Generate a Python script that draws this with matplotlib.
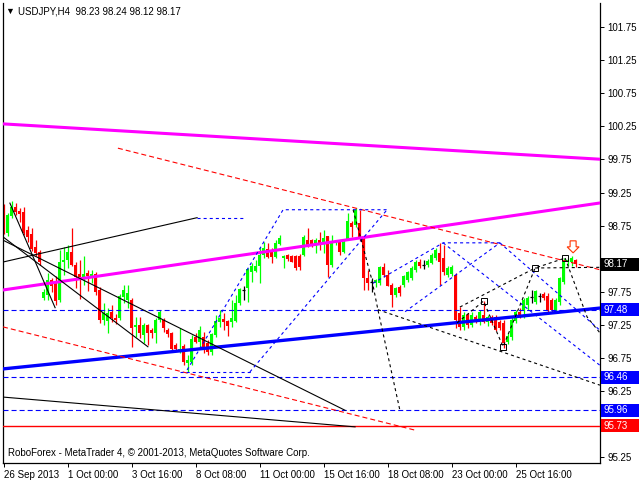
import matplotlib
matplotlib.use("Agg")
import matplotlib.pyplot as plt
import matplotlib.transforms as mtransforms
from matplotlib.patches import Rectangle, Polygon
import numpy as np

plt.rcParams['font.family'] = ['Liberation Sans', 'DejaVu Sans']
plt.rcParams['lines.scale_dashes'] = False

title_text = "USDJPY,H4  98.23 98.24 98.12 98.17"
copyright_text = "RoboForex - MetaTrader 4, \u00a9 2001-2013, MetaQuotes Software Corp."

opens = [98.83, 98.64, 98.90, 99.03, 98.97, 98.96, 98.68, 98.62, 98.43, 98.35,
         97.66, 97.70, 97.93, 97.91, 97.63, 98.20, 98.23, 98.35, 98.15, 98.02,
         97.97, 98.03, 97.97, 98.02, 97.78, 97.32, 97.31, 97.45, 97.36, 97.36,
         97.67, 97.63, 97.63, 97.22, 97.25, 97.10, 97.25, 97.17, 97.13, 97.32,
         97.32, 97.17, 97.13, 96.95, 96.84, 96.93, 96.68, 96.69, 97.07, 96.99,
         97.07, 96.98, 96.84, 97.10, 97.29, 97.34, 97.31, 97.29, 97.31, 97.58,
         97.78, 97.81, 98.05, 98.06, 98.14, 98.31, 98.40, 98.38, 98.28, 98.47,
         98.26, 98.31, 98.29, 98.29, 98.29, 98.31, 98.53, 98.53, 98.44, 98.53,
         98.47, 98.59, 98.15, 98.49, 98.53, 98.35, 98.55, 98.79, 98.76, 98.79,
         98.55, 97.96, 97.90, 97.88, 97.88, 98.12, 98.00, 97.85, 97.70, 97.82,
         97.85, 97.93, 97.96, 98.08, 98.20, 98.15, 98.15, 98.18, 98.26, 98.34,
         98.26, 98.00, 98.02, 98.00, 97.43, 97.22, 97.40, 97.25, 97.37, 97.29,
         97.40, 97.29, 97.37, 97.37, 97.29, 97.28, 96.99, 97.07, 97.31, 97.45,
         97.48, 97.55, 97.67, 97.60, 97.69, 97.72, 97.69, 97.63, 97.45, 97.60,
         97.90, 98.20, 98.20, 98.23]
highs = [99.08, 98.94, 99.12, 99.09, 99.02, 99.03, 98.74, 98.71, 98.53, 98.38,
         97.79, 98.03, 97.96, 97.99, 98.38, 98.43, 98.46, 98.71, 98.20, 98.23,
         98.29, 98.08, 98.08, 98.05, 97.82, 97.58, 97.51, 97.55, 97.42, 97.72,
         97.85, 97.85, 97.66, 97.37, 97.37, 97.28, 97.26, 97.20, 97.36, 97.48,
         97.36, 97.20, 97.14, 96.98, 97.20, 96.96, 96.80, 97.10, 97.13, 97.23,
         97.14, 97.02, 97.13, 97.40, 97.48, 97.43, 97.32, 97.63, 97.70, 97.81,
         97.84, 98.11, 98.18, 98.23, 98.43, 98.50, 98.49, 98.41, 98.53, 98.61,
         98.31, 98.32, 98.31, 98.31, 98.32, 98.61, 98.71, 98.55, 98.56, 98.65,
         98.68, 98.59, 98.61, 98.53, 98.53, 98.53, 98.94, 98.82, 99.02, 98.99,
         98.58, 98.08, 97.96, 97.94, 98.14, 98.18, 98.08, 97.88, 97.82, 97.85,
         98.00, 98.06, 98.14, 98.23, 98.25, 98.23, 98.25, 98.34, 98.41, 98.49,
         98.46, 98.14, 98.15, 98.03, 97.52, 97.45, 97.43, 97.45, 97.40, 97.48,
         97.61, 97.40, 97.40, 97.40, 97.32, 97.32, 97.13, 97.39, 97.48, 97.51,
         97.66, 97.69, 97.78, 97.78, 97.73, 97.75, 97.73, 97.66, 97.66, 97.97,
         98.26, 98.26, 98.29, 98.24]
lows = [98.62, 98.59, 98.87, 98.91, 98.80, 98.61, 98.50, 98.37, 98.29, 98.15,
        97.63, 97.63, 97.75, 97.55, 97.60, 98.00, 98.11, 98.14, 97.81, 97.64,
        97.85, 97.76, 97.88, 97.70, 97.28, 97.25, 97.13, 97.29, 97.26, 97.32,
        97.58, 97.51, 96.92, 97.07, 97.05, 96.98, 96.95, 97.05, 96.98, 97.29,
        97.14, 97.07, 96.87, 96.87, 96.83, 96.65, 96.54, 96.65, 96.98, 96.92,
        96.83, 96.80, 96.80, 97.07, 97.22, 97.17, 97.08, 97.22, 97.29, 97.55,
        97.63, 97.60, 97.90, 98.05, 97.88, 98.26, 98.26, 98.18, 98.26, 98.46,
        98.11, 98.21, 98.20, 98.08, 98.08, 98.29, 98.43, 98.43, 98.34, 98.38,
        98.34, 97.97, 98.12, 98.46, 98.31, 98.34, 98.53, 98.58, 98.73, 98.52,
        97.78, 97.78, 97.75, 97.82, 97.85, 97.97, 97.84, 97.52, 97.67, 97.69,
        97.82, 97.90, 97.93, 98.05, 98.11, 98.09, 98.12, 98.17, 98.23, 97.85,
        98.00, 97.97, 97.99, 97.20, 97.17, 97.17, 97.20, 97.22, 97.28, 97.25,
        97.28, 97.23, 97.25, 97.16, 97.17, 96.90, 96.96, 97.02, 97.28, 97.36,
        97.36, 97.48, 97.58, 97.57, 97.60, 97.63, 97.45, 97.45, 97.43, 97.55,
        97.87, 98.14, 98.14, 98.12]
closes = [98.64, 98.91, 99.03, 98.96, 98.93, 98.64, 98.58, 98.40, 98.34, 98.20,
          97.75, 97.93, 97.84, 97.61, 98.20, 98.23, 98.35, 98.15, 97.97, 97.97,
          98.02, 97.99, 98.02, 97.75, 97.32, 97.43, 97.43, 97.36, 97.32, 97.69,
          97.78, 97.73, 97.20, 97.25, 97.13, 97.25, 97.13, 97.13, 97.32, 97.45,
          97.20, 97.11, 96.89, 96.89, 96.89, 96.69, 96.72, 97.04, 96.99, 97.17,
          96.92, 96.84, 97.11, 97.31, 97.36, 97.29, 97.23, 97.36, 97.58, 97.79,
          97.78, 98.09, 98.14, 98.14, 98.31, 98.41, 98.28, 98.28, 98.49, 98.56,
          98.29, 98.25, 98.20, 98.11, 98.12, 98.58, 98.46, 98.46, 98.53, 98.46,
          98.56, 98.15, 98.50, 98.52, 98.35, 98.50, 98.82, 98.73, 98.99, 98.55,
          97.96, 97.88, 97.90, 97.93, 98.12, 98.00, 97.84, 97.70, 97.81, 97.73,
          97.99, 98.05, 98.11, 98.20, 98.14, 98.15, 98.21, 98.31, 98.38, 98.20,
          98.05, 98.11, 98.12, 97.32, 97.22, 97.40, 97.25, 97.40, 97.29, 97.45,
          97.29, 97.37, 97.28, 97.17, 97.20, 96.98, 97.08, 97.32, 97.45, 97.39,
          97.63, 97.66, 97.67, 97.76, 97.69, 97.66, 97.48, 97.48, 97.63, 97.96,
          98.20, 98.23, 98.26, 98.17]

time_tick_bars = [0, 16, 32, 48, 64, 80, 96, 112, 128]
time_tick_labels = ["26 Sep 2013", "1 Oct 00:00", "3 Oct 16:00", "8 Oct 08:00",
                    "11 Oct 00:00", "15 Oct 16:00", "18 Oct 08:00", "23 Oct 00:00",
                    "25 Oct 16:00"]
price_ticks = [95.25, 95.75, 96.25, 96.75, 97.25, 97.75, 98.25, 98.75,
               99.25, 99.75, 100.25, 100.75, 101.25, 101.75]
hidden_tick_labels = [95.75, 98.25]   # covered by the price boxes

blue_levels = [97.48, 96.46, 95.96]
red_level = 95.73
last_price = 98.17

# analyst drawing objects, as (bar, price) points
magenta_upper = [(-1, 100.29), (150, 99.75)]
magenta_lower = [(-1, 97.77), (150, 99.10)]
blue_trend = [(-1, 96.58), (150, 97.51)]
red_channel_upper = [(28.6, 99.92), (150, 98.07)]
red_channel_lower = [(-0.125, 97.22), (102.9, 95.66)]
black_solid = [
    [(-0.125, 98.20), (48.4, 98.87)],
    [(1.6, 99.09), (12.9, 97.51)],
    [(-0.125, 98.58), (36.1, 96.92)],
    [(-0.125, 98.53), (85.4, 95.96)],
    [(-0.125, 96.16), (87.9, 95.71)],
]
blue_dashed = [
    [(48.4, 98.87), (60.4, 98.87)],
    [(45.9, 96.57), (69.9, 98.99), (95.9, 98.99)],
    [(61.6, 96.54), (95.9, 98.99)],
    [(44.1, 96.54), (62.4, 96.54)],
    [(92.4, 97.88), (109.9, 98.49), (124.1, 98.49)],
    [(100.4, 97.45), (124.1, 98.49)],
    [(109.9, 98.49), (149.1, 96.64)],
    [(124.1, 98.49), (149.1, 97.17)],
]
black_dashed = [
    [(87.4, 98.99), (92.1, 97.93), (93.6, 97.48), (99.1, 95.96)],
    [(93.6, 97.48), (149.1, 96.34)],
    [(113.4, 97.28), (120.0, 97.61), (124.9, 96.92), (132.9, 98.11), (140.4, 98.26)],
    [(114.1, 97.52), (132.9, 98.11)],
    [(132.9, 98.11), (149.1, 98.12)],
    [(140.4, 98.26), (145.9, 97.37), (149.1, 97.13)],
]
marker_points = [(120.0, 97.61), (124.9, 96.92), (132.9, 98.11), (140.4, 98.26)]
arrow_anchor = (142.4, 98.52)

W, H = 640, 480
fig = plt.figure(figsize=(6.4, 4.8), dpi=100)
ax = fig.add_axes([3 / W, (H - 463) / H, 597 / W, 460 / H])
ax.set_xlim(-0.125, 149.125)
ax.set_ylim(95.164, 102.113)

PX_X = 4.0      # pixels per bar
PX_Y = 66.2     # pixels per price unit

# candles
for i, (o, h, l, c) in enumerate(zip(opens, highs, lows, closes)):
    if c > o:
        col = '#00ff00'
    elif c < o:
        col = '#ff0000'
    else:
        col = 'black'
    ax.vlines(i, l, h, color=col, lw=0.9, zorder=2)
    if c == o:
        ax.hlines(o, i - 0.4, i + 0.4, color=col, lw=0.9, zorder=2)
    else:
        ax.add_patch(Rectangle((i - 0.375, min(o, c)), 0.75, abs(c - o),
                               fc=col, ec='none', zorder=2))

def path(pts, **kw):
    xs = [p[0] for p in pts]
    ys = [p[1] for p in pts]
    ax.plot(xs, ys, **kw)

dash_std = (0, (3.6, 2.2))
dot_std = (0, (2.2, 2.2))

for lv in blue_levels:
    ax.axhline(lv, color='#0000ff', lw=0.8, ls=dash_std, zorder=3)
ax.axhline(red_level, color='#ff0000', lw=1.0, zorder=3)

path(magenta_upper, color='#ff00ff', lw=2.2, zorder=4, solid_capstyle='butt')
path(magenta_lower, color='#ff00ff', lw=2.2, zorder=4, solid_capstyle='butt')
path(blue_trend, color='#0000ff', lw=2.4, zorder=4, solid_capstyle='butt')
path(red_channel_upper, color='#ff0000', lw=0.8, ls=dash_std, zorder=4)
path(red_channel_lower, color='#ff0000', lw=0.8, ls=dash_std, zorder=4)
for seg in black_solid:
    path(seg, color='black', lw=0.8, zorder=4)
for seg in blue_dashed:
    path(seg, color='#0000ff', lw=0.8, ls=dot_std, zorder=4)
for seg in black_dashed:
    path(seg, color='black', lw=0.8, ls=dot_std, zorder=4)
ax.plot([p[0] for p in marker_points], [p[1] for p in marker_points], ls='none',
        marker='s', ms=4, mfc='none', mec='black', mew=0.7, zorder=5)

# hollow down arrow
ax_, ay_ = arrow_anchor
dx = 1 / PX_X
dy = 1 / PX_Y
arrow_pts = [(ax_ - 3 * dx, ay_), (ax_ + 3 * dx, ay_), (ax_ + 3 * dx, ay_ - 6 * dy),
             (ax_ + 6 * dx, ay_ - 6 * dy), (ax_, ay_ - 12 * dy), (ax_ - 6 * dx, ay_ - 6 * dy),
             (ax_ - 3 * dx, ay_ - 6 * dy)]
ax.add_patch(Polygon(arrow_pts, closed=True, fc='white', ec='#ff3300', lw=0.8, zorder=6))

# axes styling
ax.spines['top'].set_visible(False)
for s in ['left', 'right', 'bottom']:
    ax.spines[s].set_linewidth(0.9)
ax.yaxis.tick_right()
ax.set_yticks(price_ticks)
ax.set_yticklabels(["" if v in hidden_tick_labels else f"{v:.2f}" for v in price_ticks])
ax.tick_params(axis='y', direction='out', length=3, width=0.7, pad=2.5, labelsize=7)
ax.set_xticks(time_tick_bars)
ax.set_xticklabels(time_tick_labels, ha='left')
ax.tick_params(axis='x', direction='out', length=3, width=0.7, pad=2, labelsize=7)

# price label boxes
trans = mtransforms.blended_transform_factory(fig.transFigure, ax.transData)
boxes = [(last_price, 'black')] + [(v, '#0000ff') for v in blue_levels] + [(red_level, '#ff0000')]
for price, col in boxes:
    ax.add_patch(Rectangle((601 / W, price - 6.5 / PX_Y), 38 / W, 13 / PX_Y, transform=trans,
                           fc=col, ec='none', clip_on=False, zorder=10))
    ax.text(604 / W, price, f"{price:.2f}", transform=trans, color='white', va='center',
            ha='left', fontsize=7, zorder=11, clip_on=False)

fig.text(5 / W, 1 - 11 / H, "\u25bc", fontsize=6.5, va='center', ha='left')
fig.text(18 / W, 1 - 11 / H, title_text, fontsize=7, va='center', ha='left')
fig.text(8 / W, 1 - 453 / H, copyright_text, fontsize=7, va='center', ha='left')

fig.savefig("out.png", dpi=100)
